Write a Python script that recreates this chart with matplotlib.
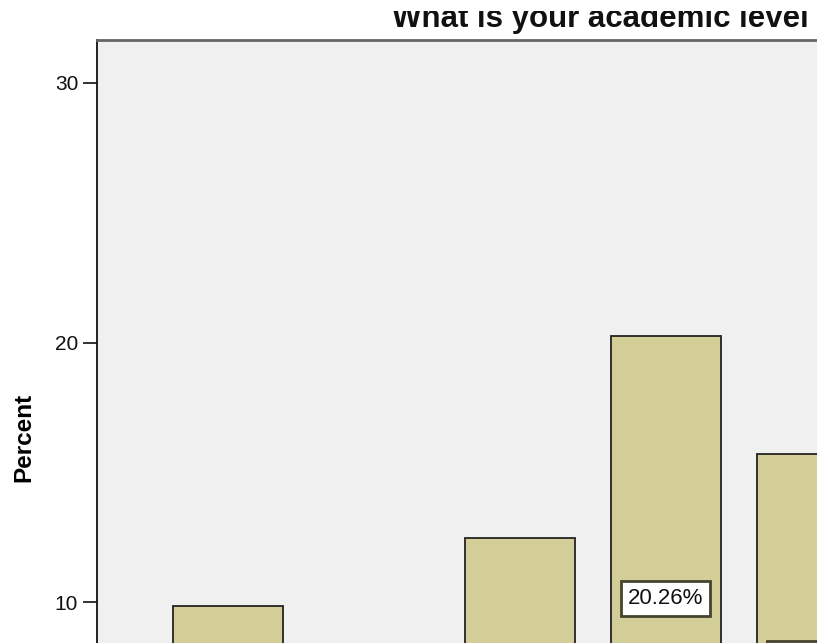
import matplotlib.pyplot as plt
from matplotlib.patches import Rectangle

plt.rcParams['font.family'] = ['Liberation Sans', 'DejaVu Sans']

# data (only the upper part of the SPSS chart is visible)
levels = ["Level 1", "Level 2", "Level 3", "Level 4", "Level 5"]
percent = [9.85, 5.73, 12.47, 20.26, 15.69]
labels = ["9.85%", "5.73%", "12.47%", "20.26%", "15.69%"]

W, H = 817, 643
fig = plt.figure(figsize=(W / 100, H / 100), dpi=100)
fig.patch.set_facecolor("white")

# plot area: left edge at x=97px, top at y=40px, y=0 falls below the crop
pitch = 146
left_px, top_px, zero_px = 97, 40, 861.5
x0 = -(227.5 - left_px) / pitch
x1 = len(levels) - 1 - x0
width_px = (x1 - x0) * pitch
ax = fig.add_axes([left_px / W, (H - zero_px) / H, width_px / W, (zero_px - top_px) / H])
ax.set_facecolor("#f0f0f0")

ymax = (zero_px - top_px) / 25.95
xs = list(range(len(levels)))
ax.bar(xs, percent, width=110 / pitch, color="#d3ce97", edgecolor="#222222", linewidth=1.3, zorder=2)

# value labels sit at half the bar height, like SPSS
for x, v, lab in zip(xs, percent, labels):
    ax.text(x, v / 2, lab, ha="center", va="center", fontsize=16, color="#111111", zorder=3,
            bbox=dict(boxstyle="square,pad=0.3", facecolor="white", edgecolor="#45452e", linewidth=2))

ax.set_xlim(x0, x1)
ax.set_ylim(0, ymax)
ax.set_yticks([10, 20, 30])
ax.tick_params(axis="y", labelsize=15, length=10, width=1.2, colors="#111111")
ax.set_xticks(xs)
ax.set_xticklabels(levels)

for side in ["right", "bottom"]:
    ax.spines[side].set_visible(False)
ax.spines["left"].set_color("#111111")
ax.spines["left"].set_linewidth(1.3)
ax.spines["top"].set_color("#666666")
ax.spines["top"].set_linewidth(2)

fig.text(24 / W, 1 - 437 / H, "Percent", rotation=90, ha="center", va="center",
         fontsize=17.5, fontweight="bold")
fig.text(392 / W, 1 - 27 / H, "What is your academic level", ha="left", va="baseline",
         fontsize=22.5, fontweight="bold", color="#111111")
# the screenshot is cropped through the top of the title
fig.patches.append(Rectangle((0, 1 - 11 / H), 1, 11 / H, transform=fig.transFigure,
                             facecolor="white", edgecolor="none", zorder=10))

fig.savefig("out.png", dpi=100)
